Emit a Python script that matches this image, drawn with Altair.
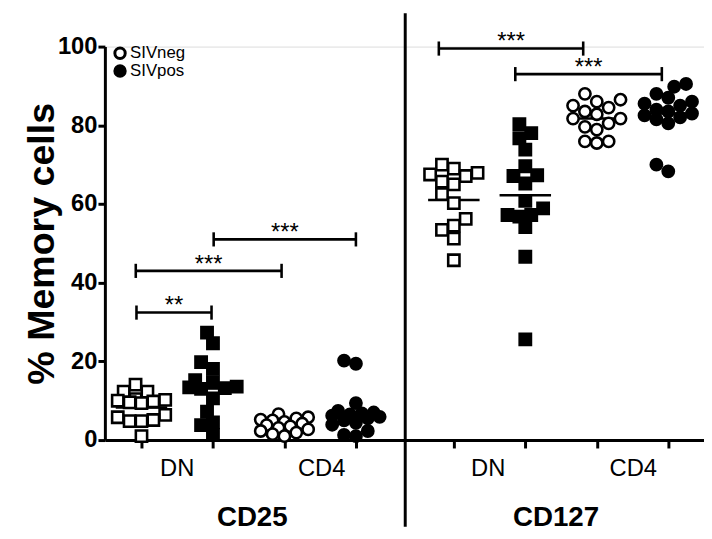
import altair as alt
import pandas as pd

# ---------------- data ----------------
groups = ["CD25 DN SIVneg", "CD25 DN SIVpos", "CD25 CD4 SIVneg", "CD25 CD4 SIVpos",
          "CD127 DN SIVneg", "CD127 DN SIVpos", "CD127 CD4 SIVneg", "CD127 CD4 SIVpos"]
group_pos = [0, 1, 2, 3, 4.37, 5.37, 6.37, 7.37]
group_shape = ["square", "square", "circle", "circle", "square", "square", "circle", "circle"]
group_status = ["SIVneg", "SIVpos", "SIVneg", "SIVpos", "SIVneg", "SIVpos", "SIVneg", "SIVpos"]

cd25_dn_neg = [14.1, 12.3, 12.3, 10.4, 10.0, 9.8, 9.6, 9.4, 10.2, 6.4, 5.8, 5.1, 4.8, 4.8, 1.0]
cd25_dn_pos = [27.3, 24.6, 19.8, 18.1, 15.2, 14.7, 13.6, 13.2, 13.0, 13.4, 10.6, 7.2, 4.5, 3.8, 1.3]
cd25_cd4_neg = [6.6, 5.8, 5.5, 5.2, 5.0, 4.6, 4.2, 3.8, 3.5, 3.1, 2.7, 2.3, 1.9, 1.5, 1.0]
cd25_cd4_pos = [20.2, 19.4, 9.4, 7.4, 7.0, 6.8, 6.5, 6.2, 5.9, 5.5, 5.0, 4.4, 3.9, 2.3, 1.3, 1.0]
cd127_dn_neg = [70.0, 69.0, 67.9, 67.1, 67.5, 65.7, 65.0, 62.5, 60.2, 56.2, 54.5, 53.4, 51.2, 45.7]
cd127_dn_pos = [80.3, 78.0, 76.7, 73.8, 69.6, 67.3, 67.1, 65.2, 60.8, 58.9, 57.2, 56.8, 57.2, 54.1, 46.6, 25.6]
cd127_cd4_neg = [88.0, 86.5, 86.0, 85.0, 84.5, 83.5, 82.8, 81.7, 81.7, 80.5, 79.6, 78.9, 75.9, 75.5, 75.9]
cd127_cd4_pos = [90.5, 89.8, 88.0, 87.0, 86.0, 85.5, 85.0, 84.0, 83.5, 83.0, 82.5, 82.0, 81.5, 80.5, 70.0, 68.3]
group_values = [cd25_dn_neg, cd25_dn_pos, cd25_cd4_neg, cd25_cd4_pos,
                cd127_dn_neg, cd127_dn_pos, cd127_cd4_neg, cd127_cd4_pos]
group_median = [8.3, 13.1, 3.8, 6.4, 61.0, 62.2, 81.7, 83.0]

# significance brackets: left end, right end, height, label
br_x1 = [-0.07, -0.08, 1.01, 4.16, 5.23]
br_x2 = [0.98, 1.96, 3.0, 6.18, 7.28]
br_y = [32.4, 43.0, 51.0, 99.5, 93.0]
br_label = ["**", "***", "***", "***", "***"]

# category labels under the axis
sub_labels = ["DN", "CD4", "DN", "CD4"]
sub_x = [0.5, 2.52, 4.85, 6.88]
main_labels = ["CD25", "CD127"]
main_x = [1.55, 5.8]
separator_x = 3.69

legend_labels = ["SIVneg", "SIVpos"]

# ---------------- layout constants ----------------
W, H = 606, 398
XMIN, XMAX = -0.512, 7.87
YMIN, YMAX = 0, 100
PX_X = W / (XMAX - XMIN)
PX_Y = H / (YMAX - YMIN)


def swarm(vals, d=12.0, step=6.0, maxk=4):
    """simple beeswarm layout (pixel space) -> offsets in x data units"""
    placed = []
    offs = [0.0] * len(vals)
    order = sorted(range(len(vals)), key=lambda i: vals[i])
    cands = [0.0] + [s * k * step for k in range(1, maxk + 1) for s in (-1, 1)]
    for i in order:
        ypx = vals[i] * PX_Y
        best = None
        for c in cands:
            if all((c - px) ** 2 + (ypx - py) ** 2 >= d * d for px, py in placed):
                best = c
                break
        if best is None:
            best = max(cands, key=lambda c: min((c - px) ** 2 + (ypx - py) ** 2 for px, py in placed))
        placed.append((best, ypx))
        offs[i] = best / PX_X
    return offs


rows = []
for g, pos, shp, st, vals in zip(groups, group_pos, group_shape, group_status, group_values):
    for v, o in zip(vals, swarm(vals)):
        rows.append({"group": g, "x": pos + o, "y": v, "shape": shp, "status": st})
pts = pd.DataFrame(rows)

med = pd.DataFrame({"x": [p - 0.36 for p in group_pos], "x2": [p + 0.36 for p in group_pos], "y": group_median})
br = pd.DataFrame({"x1": br_x1, "x2": br_x2, "y": br_y, "label": br_label})
br["ylo"] = br["y"] - 1.8
br["yhi"] = br["y"] + 1.8
br["ty"] = br["y"] - 0.2
ends = pd.concat([br[["x1", "ylo", "yhi"]].rename(columns={"x1": "x"}),
                  br[["x2", "ylo", "yhi"]].rename(columns={"x2": "x"})])

xs = alt.Scale(domain=[XMIN, XMAX], nice=False, zero=False)
ys = alt.Scale(domain=[YMIN, YMAX], nice=False)

FONT = "Liberation Sans"

base_x = alt.X("x:Q", scale=xs,
               axis=alt.Axis(values=group_pos, labels=False, title=None, grid=False,
                             domainWidth=3, domainColor="black", tickWidth=3, tickSize=8,
                             tickColor="black"))
base_y = alt.Y("y:Q", scale=ys,
               axis=alt.Axis(values=[0, 20, 40, 60, 80, 100], grid=False, title="% Memory cells",
                             titleFont=FONT, titleFontSize=38, titleFontWeight="bold", titleColor="black",
                             titlePadding=-4, labelFont=FONT, labelFontSize=24, labelFontWeight="bold",
                             labelColor="black", labelPadding=1, domainWidth=3, domainColor="black",
                             tickWidth=3, tickSize=7, tickColor="black"))

points = alt.Chart(pts).mark_point(size=130, strokeWidth=2.6, opacity=1).encode(
    x=base_x,
    y=base_y,
    shape=alt.Shape("shape:N", scale=alt.Scale(domain=["square", "circle"], range=["square", "circle"]), legend=None),
    fill=alt.Fill("status:N", scale=alt.Scale(domain=["SIVneg", "SIVpos"], range=["white", "black"]), legend=None),
    stroke=alt.value("black"),
)

medians = alt.Chart(med).mark_rule(strokeWidth=2.5, color="black").encode(
    x=alt.X("x:Q", scale=xs), x2="x2:Q", y=alt.Y("y:Q", scale=ys))

hlines = alt.Chart(br).mark_rule(strokeWidth=2.6, color="black").encode(
    x=alt.X("x1:Q", scale=xs), x2="x2:Q", y=alt.Y("y:Q", scale=ys))
vlines = alt.Chart(ends).mark_rule(strokeWidth=2.6, color="black").encode(
    x=alt.X("x:Q", scale=xs), y=alt.Y("ylo:Q", scale=ys), y2="yhi:Q")
stars = alt.Chart(br.assign(xm=(br["x1"] + br["x2"]) / 2)).mark_text(
    font=FONT, fontSize=24, color="black", baseline="alphabetic", align="center").encode(
    x=alt.X("xm:Q", scale=xs), y=alt.Y("ty:Q", scale=ys), text="label:N")

sep = alt.Chart(pd.DataFrame({"x": [separator_x], "y": [-22.0], "y2": [108.5]})).mark_rule(
    strokeWidth=3, color="black", clip=False).encode(
    x=alt.X("x:Q", scale=xs), y=alt.Y("y:Q", scale=ys), y2="y2:Q")

sub = alt.Chart(pd.DataFrame({"x": sub_x, "y": [-7.3] * 4, "t": sub_labels})).mark_text(
    font=FONT, fontSize=24, color="black", baseline="middle", align="center").encode(
    x=alt.X("x:Q", scale=xs), y=alt.Y("y:Q", scale=ys), text="t:N")
mainlab = alt.Chart(pd.DataFrame({"x": main_x, "y": [-19.8] * 2, "t": main_labels})).mark_text(
    font=FONT, fontSize=28, fontWeight="bold", color="black", baseline="middle", align="center").encode(
    x=alt.X("x:Q", scale=xs), y=alt.Y("y:Q", scale=ys), text="t:N")

leg = pd.DataFrame({"x": [-0.3, -0.3], "y": [98.3, 93.8], "status": legend_labels, "tx": [-0.16, -0.16]})
leg_pts = alt.Chart(leg).mark_point(shape="circle", size=110, strokeWidth=3, opacity=1, stroke="black").encode(
    x=alt.X("x:Q", scale=xs), y=alt.Y("y:Q", scale=ys),
    fill=alt.Fill("status:N", scale=alt.Scale(domain=["SIVneg", "SIVpos"], range=["white", "black"]), legend=None))
leg_txt = alt.Chart(leg).mark_text(font=FONT, fontSize=17, color="black", align="left", baseline="middle").encode(
    x=alt.X("tx:Q", scale=xs), y=alt.Y("y:Q", scale=ys), text="status:N")

chart = alt.layer(medians, points, hlines, vlines, stars, sep, sub, mainlab, leg_pts, leg_txt).properties(
    width=W, height=H,
    autosize=alt.AutoSizeParams(type="none"),
    padding={"left": 98, "top": 36, "right": 0, "bottom": 94},
).configure_view(stroke=None).configure(background="white")

chart.save("out.html", embed_options={"renderer": "svg", "actions": False})
